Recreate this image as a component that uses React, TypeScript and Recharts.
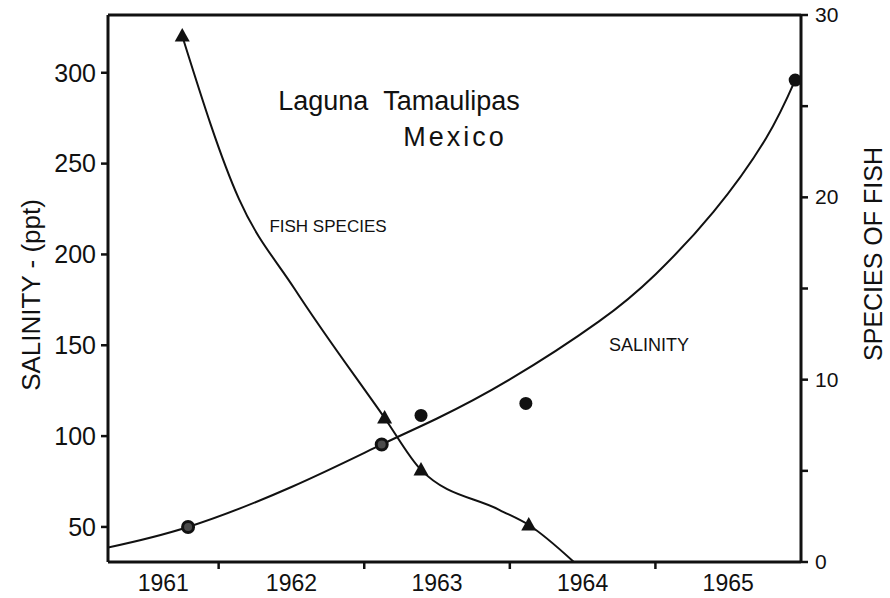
import React from "react";
import {
  ComposedChart,
  Line,
  Scatter,
  XAxis,
  YAxis,
  ReferenceLine,
} from "recharts";

// Smoothed salinity trend (ppt)
const salinityCurve = [
  { year: 1961.24, sal: 38.7 },
  { year: 1961.79, sal: 50 },
  { year: 1962.5, sal: 72 },
  { year: 1963.12, sal: 95.4 },
  { year: 1963.5, sal: 109.7 },
  { year: 1964.0, sal: 131.2 },
  { year: 1964.61, sal: 163 },
  { year: 1965.0, sal: 189 },
  { year: 1965.4, sal: 223.6 },
  { year: 1965.76, sal: 264 },
  { year: 1965.96, sal: 296 },
];

// Salinity samples: ring markers and solid markers
const salinityRings = [
  { year: 1961.79, sal: 50 },
  { year: 1963.12, sal: 95.4 },
];
const salinityDots = [
  { year: 1963.39, sal: 111.4 },
  { year: 1964.11, sal: 118 },
  { year: 1965.96, sal: 296 },
];

// Number of fish species: smoothed curve and observed counts
const fishCurve = [
  { year: 1961.75, fish: 28.85 },
  { year: 1962.14, fish: 19.9 },
  { year: 1962.52, fish: 15.0 },
  { year: 1963.14, fish: 7.9 },
  { year: 1963.39, fish: 5.05 },
  { year: 1963.93, fish: 2.85 },
  { year: 1964.13, fish: 2.03 },
  { year: 1964.44, fish: 0 },
];
const fishCounts = [
  { year: 1961.75, fish: 28.85 },
  { year: 1963.14, fish: 7.9 },
  { year: 1963.39, fish: 5.05 },
  { year: 1964.13, fish: 2.03 },
];

// Year boundaries carry tick marks; labels sit in the middle of each year
const yearBoundaries = [1962, 1963, 1964, 1965];
const yearLabels = [
  { at: 1961.62, text: "1961" },
  { at: 1962.5, text: "1962" },
  { at: 1963.5, text: "1963" },
  { at: 1964.5, text: "1964" },
  { at: 1965.5, text: "1965" },
];
const salinityTicks = [50, 100, 150, 200, 250, 300];
const speciesTicks = [0, 5, 10, 15, 20, 25, 30];
const speciesLabelled = [0, 10, 20, 30];

const FONT = "'Liberation Sans', Arial, sans-serif";
const INK = "#111";

const xTicks = [...yearBoundaries, ...yearLabels.map((l) => l.at)];

const XTick = (props: any) => {
  const { x, y, payload } = props;
  const v = payload.value;
  if (yearBoundaries.includes(v)) {
    return <line x1={x} x2={x} y1={y} y2={y + 7} stroke={INK} strokeWidth={2.5} />;
  }
  const lbl = yearLabels.find((l) => l.at === v);
  return (
    <text x={x} y={y + 29} textAnchor="middle" fontSize={23} fontFamily={FONT} fill={INK}>
      {lbl ? lbl.text : ""}
    </text>
  );
};

const RightTick = (props: any) => {
  const { x, y, payload } = props;
  const v = payload.value;
  return (
    <g>
      <line x1={x} x2={x + 7} y1={y} y2={y} stroke={INK} strokeWidth={2.5} />
      {speciesLabelled.includes(v) && (
        <text x={x + 14} y={y + 7} fontSize={21} fontFamily={FONT} fill={INK}>
          {v}
        </text>
      )}
    </g>
  );
};

const Triangle = (props: any) => {
  const { cx, cy } = props;
  return (
    <polygon
      points={`${cx},${cy - 8} ${cx - 7.5},${cy + 5.5} ${cx + 7.5},${cy + 5.5}`}
      fill={INK}
    />
  );
};

const Dot = (props: any) => {
  const { cx, cy } = props;
  return <circle cx={cx} cy={cy} r={6.5} fill={INK} />;
};

const Ring = (props: any) => {
  const { cx, cy } = props;
  return <circle cx={cx} cy={cy} r={5.5} fill="#4a4a4a" stroke={INK} strokeWidth={3} />;
};

export default function App() {
  return (
    <div style={{ position: "absolute", left: 0, top: 0, background: "#fff" }}>
      <ComposedChart
        width={890}
        height={598}
        margin={{ top: 15, right: 0, bottom: 0, left: 0 }}
      >
        <XAxis
          dataKey="year"
          type="number"
          domain={[1961.24, 1966]}
          ticks={xTicks}
          tick={<XTick />}
          tickLine={false}
          tickSize={0}
          tickMargin={0}
          interval={0}
          height={36}
          axisLine={{ stroke: INK, strokeWidth: 3 }}
          allowDataOverflow
        />
        <YAxis
          yAxisId="left"
          type="number"
          domain={[30.7, 331.8]}
          ticks={salinityTicks}
          interval={0}
          width={108}
          tickSize={7}
          tickMargin={5}
          tickLine={{ stroke: INK, strokeWidth: 2.5 }}
          axisLine={{ stroke: INK, strokeWidth: 3 }}
          tick={{ fill: INK, fontSize: 25, fontFamily: FONT }}
          allowDataOverflow
        />
        <YAxis
          yAxisId="right"
          orientation="right"
          type="number"
          domain={[0, 30]}
          ticks={speciesTicks}
          interval={0}
          width={89}
          tickSize={0}
          tickMargin={0}
          tickLine={false}
          tick={<RightTick />}
          axisLine={{ stroke: INK, strokeWidth: 3 }}
          allowDataOverflow
        />
        <ReferenceLine yAxisId="right" y={30} stroke={INK} strokeWidth={3} />

        <Line
          yAxisId="left"
          data={salinityCurve}
          dataKey="sal"
          type="natural"
          stroke={INK}
          strokeWidth={2}
          dot={false}
          activeDot={false}
          isAnimationActive={false}
        />
        <Line
          yAxisId="right"
          data={fishCurve}
          dataKey="fish"
          type="monotone"
          stroke={INK}
          strokeWidth={2}
          dot={false}
          activeDot={false}
          isAnimationActive={false}
        />
        <Scatter
          yAxisId="left"
          data={salinityRings}
          dataKey="sal"
          shape={<Ring />}
          isAnimationActive={false}
        />
        <Scatter
          yAxisId="left"
          data={salinityDots}
          dataKey="sal"
          shape={<Dot />}
          isAnimationActive={false}
        />
        <Scatter
          yAxisId="right"
          data={fishCounts}
          dataKey="fish"
          shape={<Triangle />}
          isAnimationActive={false}
        />

        <text x={399} y={110} textAnchor="middle" fontSize={27} fontFamily={FONT} fill={INK}>
          {"Laguna\u00a0\u00a0Tamaulipas"}
        </text>
        <text
          x={455}
          y={146}
          textAnchor="middle"
          fontSize={27}
          letterSpacing={3}
          fontFamily={FONT}
          fill={INK}
        >
          Mexico
        </text>
        <text x={328} y={232} textAnchor="middle" fontSize={17} fontFamily={FONT} fill={INK}>
          FISH SPECIES
        </text>
        <text x={649} y={351} textAnchor="middle" fontSize={18} fontFamily={FONT} fill={INK}>
          SALINITY
        </text>
        <text
          x={40}
          y={295}
          transform="rotate(-90 40 295)"
          textAnchor="middle"
          fontSize={26}
          fontFamily={FONT}
          fill={INK}
        >
          SALINITY - (ppt)
        </text>
        <text
          x={882}
          y={254}
          transform="rotate(-90 882 254)"
          textAnchor="middle"
          fontSize={25}
          fontFamily={FONT}
          fill={INK}
        >
          SPECIES OF FISH
        </text>
      </ComposedChart>
    </div>
  );
}
